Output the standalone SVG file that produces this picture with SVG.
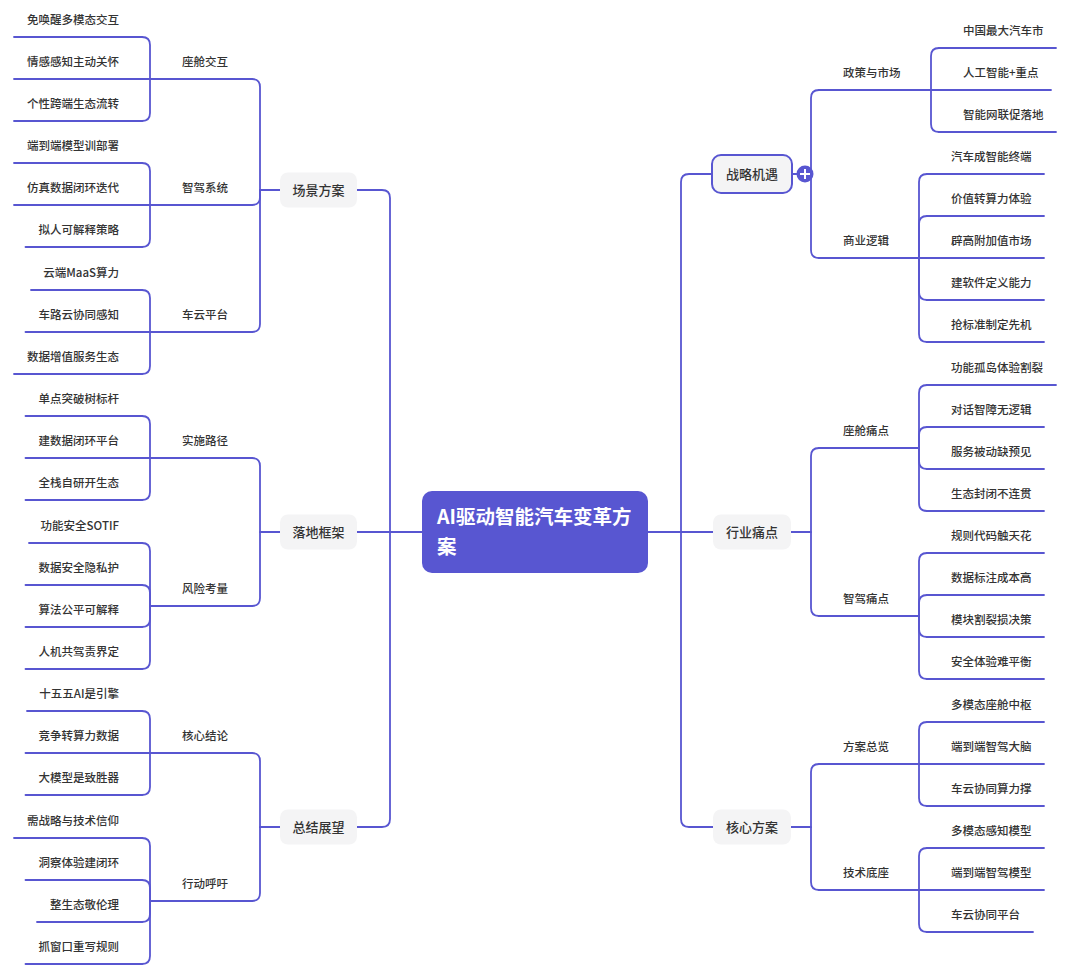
<svg xmlns="http://www.w3.org/2000/svg" width="1080" height="975" viewBox="0 0 1080 975">
<style>
text{font-family:"Noto Sans CJK SC","Noto Sans","Liberation Sans",sans-serif;fill:#333;font-weight:500}
.lf{font-size:11.5px}
.l1{font-size:13px;text-anchor:middle}
.l2{font-size:11.5px}
.le{text-anchor:end}
.mid{text-anchor:middle}
.ul,.cn path{fill:none;stroke:#5856d1;stroke-width:1.8;stroke-linecap:round}
.box{fill:#f4f4f5}
.title{font-size:19.5px;font-weight:bold;fill:#fff}
</style>
<rect width="1080" height="975" fill="#fff"/>
<g class="cn" id="connectors">
<!-- center -->
<path d="M422,532 H357"/><path d="M390,532 V198 Q390,190 382,190 H357"/><path d="M390,532 V819 Q390,827 382,827 H357"/>
<path d="M648,532 H713"/><path d="M681,532 V182 Q681,174 689,174 H712"/><path d="M681,532 V819 Q681,827 689,827 H713"/>
<!-- left L1 -> L2 -->
<path d="M280,190 H260 V87 Q260,79 252,79"/><path d="M260,190 V197 Q260,205 252,205"/><path d="M260,190 V324 Q260,332 252,332"/>
<path d="M280,532 H260 V466 Q260,458 252,458"/><path d="M260,532 V598 Q260,606 252,606"/>
<path d="M280,827 H260 V761 Q260,753 252,753"/><path d="M260,827 V893 Q260,901 252,901"/>
<!-- right L1 -> L2 -->
<path d="M792,174 H811 V98 Q811,90 819,90"/><path d="M811,174 V250 Q811,258 819,258"/>
<path d="M791,532 H811 V456 Q811,448 819,448"/><path d="M811,532 V608 Q811,616 819,616"/>
<path d="M791,827 H811 V772 Q811,764 819,764"/><path d="M811,827 V882 Q811,890 819,890"/>
<!-- left L2 -> leaves -->
<path d="M150,79 V45 Q150,37 142,37"/><path d="M150,79 H142"/><path d="M150,79 V113 Q150,121 142,121"/>
<path d="M150,205 V171 Q150,163 142,163"/><path d="M150,205 H142"/><path d="M150,205 V239 Q150,247 142,247"/>
<path d="M150,332 V298 Q150,290 142,290"/><path d="M150,332 H142"/><path d="M150,332 V366 Q150,374 142,374"/>
<path d="M150,458 V424 Q150,416 142,416"/><path d="M150,458 H142"/><path d="M150,458 V492 Q150,500 142,500"/>
<path d="M150,606 V551 Q150,543 142,543"/><path d="M150,606 V593 Q150,585 142,585"/><path d="M150,606 V619 Q150,627 142,627"/><path d="M150,606 V661 Q150,669 142,669"/>
<path d="M150,753 V719 Q150,711 142,711"/><path d="M150,753 H142"/><path d="M150,753 V787 Q150,795 142,795"/>
<path d="M150,901 V846 Q150,838 142,838"/><path d="M150,901 V888 Q150,880 142,880"/><path d="M150,901 V914 Q150,922 142,922"/><path d="M150,901 V956 Q150,964 142,964"/>
<!-- right L2 -> leaves -->
<path d="M931,90 V56 Q931,48 939,48"/><path d="M931,90 H939"/><path d="M931,90 V124 Q931,132 939,132"/>
<path d="M919,258 V182 Q919,174 927,174"/><path d="M919,258 V224 Q919,216 927,216"/><path d="M919,258 H927"/><path d="M919,258 V292 Q919,300 927,300"/><path d="M919,258 V334 Q919,342 927,342"/>
<path d="M919,448 V393 Q919,385 927,385"/><path d="M919,448 V435 Q919,427 927,427"/><path d="M919,448 V461 Q919,469 927,469"/><path d="M919,448 V503 Q919,511 927,511"/>
<path d="M919,616 V561 Q919,553 927,553"/><path d="M919,616 V603 Q919,595 927,595"/><path d="M919,616 V629 Q919,637 927,637"/><path d="M919,616 V671 Q919,679 927,679"/>
<path d="M919,764 V730 Q919,722 927,722"/><path d="M919,764 H927"/><path d="M919,764 V798 Q919,806 927,806"/>
<path d="M919,890 V856 Q919,848 927,848"/><path d="M919,890 H927"/><path d="M919,890 V924 Q919,932 927,932"/>
</g>

<g id="root">
<rect x="422" y="491" width="226" height="82" rx="10" fill="#5856d1"/>
<text class="title" x="437" y="524">AI驱动智能汽车变革方</text>
<text class="title" x="437" y="554">案</text>
</g>

<!-- level 1 -->
<g id="n-changjing"><rect class="box" x="280" y="172.5" width="77" height="35" rx="8"/><text class="l1" x="318.5" y="195">场景方案</text></g>
<g id="n-luodi"><rect class="box" x="280" y="514.5" width="77" height="35" rx="8"/><text class="l1" x="318.5" y="537">落地框架</text></g>
<g id="n-zongjie"><rect class="box" x="280" y="809.5" width="77" height="35" rx="8"/><text class="l1" x="318.5" y="832">总结展望</text></g>
<g id="n-zhanlue"><rect x="712" y="155" width="80" height="38" rx="9" fill="#f4f4f5" stroke="#5856d1" stroke-width="2"/><text class="l1" x="752" y="179">战略机遇</text>
<circle cx="805" cy="174" r="8.5" fill="#5856d1"/><path d="M800,174 H810 M805,169 V179" stroke="#fff" stroke-width="2" fill="none"/></g>
<g id="n-hangye"><rect class="box" x="713" y="514.5" width="78" height="35" rx="8"/><text class="l1" x="752" y="537">行业痛点</text></g>
<g id="n-hexin"><rect class="box" x="713" y="809.5" width="78" height="35" rx="8"/><text class="l1" x="752" y="832">核心方案</text></g>

<!-- level 2 left -->
<g id="n-zuocang"><text class="l2 mid" x="205" y="65.5">座舱交互</text><line class="ul" x1="150" y1="79" x2="252" y2="79"/></g>
<g id="n-zhijia"><text class="l2 mid" x="205" y="191.5">智驾系统</text><line class="ul" x1="150" y1="205" x2="252" y2="205"/></g>
<g id="n-cheyun"><text class="l2 mid" x="205" y="318.5">车云平台</text><line class="ul" x1="150" y1="332" x2="252" y2="332"/></g>
<g id="n-shishi"><text class="l2 mid" x="205" y="444.5">实施路径</text><line class="ul" x1="150" y1="458" x2="252" y2="458"/></g>
<g id="n-fengxian"><text class="l2 mid" x="205" y="592.5">风险考量</text><line class="ul" x1="150" y1="606" x2="252" y2="606"/></g>
<g id="n-jielun"><text class="l2 mid" x="205" y="739.5">核心结论</text><line class="ul" x1="150" y1="753" x2="252" y2="753"/></g>
<g id="n-xingdong"><text class="l2 mid" x="205" y="887.5">行动呼吁</text><line class="ul" x1="150" y1="901" x2="252" y2="901"/></g>

<!-- level 2 right -->
<g id="n-zhengce"><text class="l2" x="843" y="76.5">政策与市场</text><line class="ul" x1="819" y1="90" x2="931" y2="90"/></g>
<g id="n-shangye"><text class="l2" x="843" y="244.5">商业逻辑</text><line class="ul" x1="819" y1="258" x2="919" y2="258"/></g>
<g id="n-zctd"><text class="l2" x="843" y="434.5">座舱痛点</text><line class="ul" x1="819" y1="448" x2="919" y2="448"/></g>
<g id="n-zjtd"><text class="l2" x="843" y="602.5">智驾痛点</text><line class="ul" x1="819" y1="616" x2="919" y2="616"/></g>
<g id="n-fangan"><text class="l2" x="843" y="750.5">方案总览</text><line class="ul" x1="819" y1="764" x2="919" y2="764"/></g>
<g id="n-jishu"><text class="l2" x="843" y="876.5">技术底座</text><line class="ul" x1="819" y1="890" x2="919" y2="890"/></g>

<!-- leaves left -->
<g id="l1"><text class="lf le" x="119" y="23.5">免唤醒多模态交互</text><line class="ul" x1="14" y1="37" x2="142" y2="37"/></g>
<g id="l2"><text class="lf le" x="119" y="65.5">情感感知主动关怀</text><line class="ul" x1="14" y1="79" x2="142" y2="79"/></g>
<g id="l3"><text class="lf le" x="119" y="107.5">个性跨端生态流转</text><line class="ul" x1="14" y1="121" x2="142" y2="121"/></g>
<g id="l4"><text class="lf le" x="119" y="149.5">端到端模型训部署</text><line class="ul" x1="14" y1="163" x2="142" y2="163"/></g>
<g id="l5"><text class="lf le" x="119" y="191.5">仿真数据闭环迭代</text><line class="ul" x1="14" y1="205" x2="142" y2="205"/></g>
<g id="l6"><text class="lf le" x="119" y="233.5">拟人可解释策略</text><line class="ul" x1="25.5" y1="247" x2="142" y2="247"/></g>
<g id="l7"><text class="lf le" x="119" y="276.5">云端MaaS算力</text><line class="ul" x1="31" y1="290" x2="142" y2="290"/></g>
<g id="l8"><text class="lf le" x="119" y="318.5">车路云协同感知</text><line class="ul" x1="25.5" y1="332" x2="142" y2="332"/></g>
<g id="l9"><text class="lf le" x="119" y="360.5">数据增值服务生态</text><line class="ul" x1="14" y1="374" x2="142" y2="374"/></g>
<g id="l10"><text class="lf le" x="119" y="402.5">单点突破树标杆</text><line class="ul" x1="25.5" y1="416" x2="142" y2="416"/></g>
<g id="l11"><text class="lf le" x="119" y="444.5">建数据闭环平台</text><line class="ul" x1="25.5" y1="458" x2="142" y2="458"/></g>
<g id="l12"><text class="lf le" x="119" y="486.5">全栈自研开生态</text><line class="ul" x1="25.5" y1="500" x2="142" y2="500"/></g>
<g id="l13"><text class="lf le" x="119" y="529.5">功能安全SOTIF</text><line class="ul" x1="29" y1="543" x2="142" y2="543"/></g>
<g id="l14"><text class="lf le" x="119" y="571.5">数据安全隐私护</text><line class="ul" x1="25.5" y1="585" x2="142" y2="585"/></g>
<g id="l15"><text class="lf le" x="119" y="613.5">算法公平可解释</text><line class="ul" x1="25.5" y1="627" x2="142" y2="627"/></g>
<g id="l16"><text class="lf le" x="119" y="655.5">人机共驾责界定</text><line class="ul" x1="25.5" y1="669" x2="142" y2="669"/></g>
<g id="l17"><text class="lf le" x="119" y="697.5">十五五AI是引擎</text><line class="ul" x1="27" y1="711" x2="142" y2="711"/></g>
<g id="l18"><text class="lf le" x="119" y="739.5">竞争转算力数据</text><line class="ul" x1="25.5" y1="753" x2="142" y2="753"/></g>
<g id="l19"><text class="lf le" x="119" y="781.5">大模型是致胜器</text><line class="ul" x1="25.5" y1="795" x2="142" y2="795"/></g>
<g id="l20"><text class="lf le" x="119" y="824.5">需战略与技术信仰</text><line class="ul" x1="14" y1="838" x2="142" y2="838"/></g>
<g id="l21"><text class="lf le" x="119" y="866.5">洞察体验建闭环</text><line class="ul" x1="25.5" y1="880" x2="142" y2="880"/></g>
<g id="l22"><text class="lf le" x="119" y="908.5">整生态敬伦理</text><line class="ul" x1="37" y1="922" x2="142" y2="922"/></g>
<g id="l23"><text class="lf le" x="119" y="950.5">抓窗口重写规则</text><line class="ul" x1="25.5" y1="964" x2="142" y2="964"/></g>

<!-- leaves right -->
<g id="r1"><text class="lf" x="963" y="34.5">中国最大汽车市</text><line class="ul" x1="939" y1="48" x2="1056" y2="48"/></g>
<g id="r2"><text class="lf" x="963" y="76.5">人工智能+重点</text><line class="ul" x1="939" y1="90" x2="1051" y2="90"/></g>
<g id="r3"><text class="lf" x="963" y="118.5">智能网联促落地</text><line class="ul" x1="939" y1="132" x2="1056" y2="132"/></g>
<g id="r4"><text class="lf" x="951" y="160.5">汽车成智能终端</text><line class="ul" x1="927" y1="174" x2="1044" y2="174"/></g>
<g id="r5"><text class="lf" x="951" y="202.5">价值转算力体验</text><line class="ul" x1="927" y1="216" x2="1044" y2="216"/></g>
<g id="r6"><text class="lf" x="951" y="244.5">辟高附加值市场</text><line class="ul" x1="927" y1="258" x2="1044" y2="258"/></g>
<g id="r7"><text class="lf" x="951" y="286.5">建软件定义能力</text><line class="ul" x1="927" y1="300" x2="1044" y2="300"/></g>
<g id="r8"><text class="lf" x="951" y="328.5">抢标准制定先机</text><line class="ul" x1="927" y1="342" x2="1044" y2="342"/></g>
<g id="r9"><text class="lf" x="951" y="371.5">功能孤岛体验割裂</text><line class="ul" x1="927" y1="385" x2="1056" y2="385"/></g>
<g id="r10"><text class="lf" x="951" y="413.5">对话智障无逻辑</text><line class="ul" x1="927" y1="427" x2="1044" y2="427"/></g>
<g id="r11"><text class="lf" x="951" y="455.5">服务被动缺预见</text><line class="ul" x1="927" y1="469" x2="1044" y2="469"/></g>
<g id="r12"><text class="lf" x="951" y="497.5">生态封闭不连贯</text><line class="ul" x1="927" y1="511" x2="1044" y2="511"/></g>
<g id="r13"><text class="lf" x="951" y="539.5">规则代码触天花</text><line class="ul" x1="927" y1="553" x2="1044" y2="553"/></g>
<g id="r14"><text class="lf" x="951" y="581.5">数据标注成本高</text><line class="ul" x1="927" y1="595" x2="1044" y2="595"/></g>
<g id="r15"><text class="lf" x="951" y="623.5">模块割裂损决策</text><line class="ul" x1="927" y1="637" x2="1044" y2="637"/></g>
<g id="r16"><text class="lf" x="951" y="665.5">安全体验难平衡</text><line class="ul" x1="927" y1="679" x2="1044" y2="679"/></g>
<g id="r17"><text class="lf" x="951" y="708.5">多模态座舱中枢</text><line class="ul" x1="927" y1="722" x2="1044" y2="722"/></g>
<g id="r18"><text class="lf" x="951" y="750.5">端到端智驾大脑</text><line class="ul" x1="927" y1="764" x2="1044" y2="764"/></g>
<g id="r19"><text class="lf" x="951" y="792.5">车云协同算力撑</text><line class="ul" x1="927" y1="806" x2="1044" y2="806"/></g>
<g id="r20"><text class="lf" x="951" y="834.5">多模态感知模型</text><line class="ul" x1="927" y1="848" x2="1044" y2="848"/></g>
<g id="r21"><text class="lf" x="951" y="876.5">端到端智驾模型</text><line class="ul" x1="927" y1="890" x2="1044" y2="890"/></g>
<g id="r22"><text class="lf" x="951" y="918.5">车云协同平台</text><line class="ul" x1="927" y1="932" x2="1033" y2="932"/></g>
</svg>
